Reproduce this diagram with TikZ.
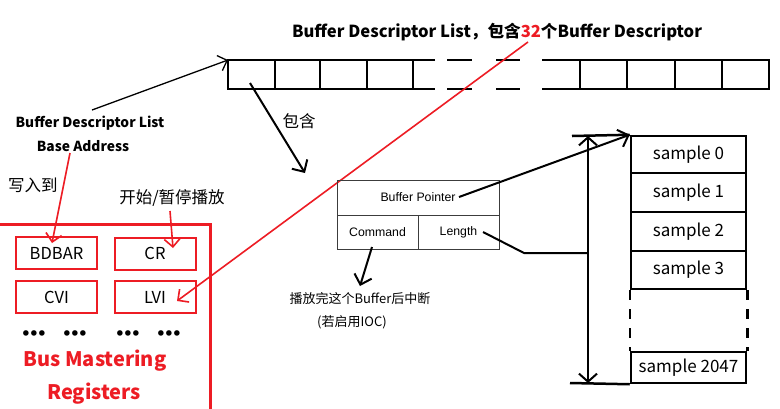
\documentclass[tikz,border=0pt]{standalone}
\usepackage{fontspec}
\setmainfont{Noto Sans CJK SC}
\newfontfamily\arialf{Liberation Sans}
\newfontfamily\dejavu{DejaVu Sans}
\usetikzlibrary{arrows.meta}
\definecolor{pred}{RGB}{237,28,36}
\definecolor{dgray}{RGB}{60,60,60}
\newcommand{\fs}[1]{\fontsize{#1}{#1}\selectfont}
\tikzset{
  thickln/.style={line width=2.5pt, black},
  barb/.style={-{Straight Barb[length=9pt,width=18pt,line width=2pt]}},
  blkarrow/.style={black, line width=2pt, barb},
  thinarrow/.style={black, line width=1.3pt, -{Straight Barb[length=8pt,width=16pt,line width=1.3pt]}},
  redarrow/.style={pred, line width=1.6pt, -{Straight Barb[length=8pt,width=16pt,line width=1.6pt]}},
  regbox/.style={draw=pred, line width=2pt, minimum width=81pt, minimum height=32pt, inner sep=0pt, font=\fs{16.5}},
  descbox/.style={draw=dgray, line width=0.9pt, inner sep=0pt, font=\arialf\fs{12.3}},
  sampbox/.style={draw=black, line width=2.5pt, minimum width=115pt, inner sep=0pt, font=\fs{17}},
  lbl/.style={inner sep=0pt, font=\fs{16.5}},
  blbl/.style={inner sep=0pt, font=\bfseries\fs{13.8}},
  dots/.style={inner sep=0pt, font=\dejavu\fs{19}},
}
\begin{document}
\begin{tikzpicture}[x=1pt,y=-1pt]
\useasboundingbox (0,0) rectangle (780,408);
\fill[white] (0,0) rectangle (780,408);

% title
\node[inner sep=0pt, font=\bfseries\fs{16.6}] (title) at (497,32) {Buffer Descriptor List，包含\textcolor{pred}{32}个Buffer Descriptor};
\coordinate (t32) at (528,42);

% descriptor strip
\draw[thickln] (435,60) -- (228,60) -- (228,89) -- (435,89);
\foreach \x in {275,320,367,413} \draw[thickln] (\x,60) -- (\x,89);
\foreach \a/\b in {447/472,496/520} {
  \draw[thickln] (\a,60) -- (\b,60);
  \draw[thickln] (\a,89) -- (\b,89);
}
\draw[thickln] (542,60) -- (769,60) -- (769,89) -- (542,89);
\foreach \x in {580,627,675,722} \draw[thickln] (\x,60) -- (\x,89);
\coordinate (strip) at (228,60);
\coordinate (cell1) at (250,83);

% left labels
\node[blbl] (bdl) at (90,123) {Buffer Descriptor List};
\node[blbl] (bda) at (83,146) {Base Address};
\coordinate (bdlstart) at (92,110);
\draw[thinarrow] (bdlstart) -- (strip);

\node[lbl] (xrd) at (33,185) {写入到};
\node[lbl] (ksz) at (172,198) {开始/暂停播放};
\node[lbl] (bh) at (299,121) {包含};

% register block
\draw[pred, line width=3pt] (-5,224) -- (210,224) -- (210,415);
\node[regbox] (bdbar) at (56.5,253) {\raisebox{-2pt}{BDBAR}};
\node[regbox] (cr) at (155,253.5) {\raisebox{-2pt}{CR}};
\node[regbox] (cvi) at (56.5,297) {\raisebox{-3pt}{CVI}};
\node[regbox] (lvi) at (155,297) {\raisebox{-3pt}{LVI}};
\foreach \x/\n in {34/d1,75/d2,128/d3,169/d4}
  \node[dots] (\n) at (\x,336) {•\kern-3.2pt•\kern-3.2pt•};
\node[inner sep=0pt, font=\bfseries\fs{20}, text=pred] (bm) at (95,361) {Bus Mastering};
\node[inner sep=0pt, font=\bfseries\fs{20}, text=pred] (rg) at (94,394) {Registers};

% red arrows
\coordinate (bdastart) at (70,153);
\coordinate (bdbartip) at (52,243);
\draw[redarrow] (bdastart) -- (bdbartip);
\coordinate (kszstart) at (170,211);
\coordinate (crtip) at (173,248);
\draw[redarrow] (kszstart) -- (crtip);
\coordinate (lvitip) at (177,301);
\draw[redarrow] (t32) -- (lvitip);

% descriptor
\node[descbox, minimum width=162pt, minimum height=35pt] (bp) at (418,197.5) {Buffer Pointer};
\node[descbox, minimum width=81pt, minimum height=34pt] (cmd) at (377.5,232) {Command};
\node[descbox, minimum width=81pt, minimum height=34pt] (len) at (458.5,232) {Length};

\draw[blkarrow] (cell1) -- (305,173);

% done text
\node[inner sep=0pt, font=\fs{13}] (done) at (360,299) {播放完这个Buffer后中断};
\node[inner sep=0pt, font=\fs{13}] (ioc) at (352,322) {(若启用IOC)};
\coordinate (cmdstart) at (372,247);
\coordinate (cmdtip) at (360,286);
\draw[blkarrow] (cmdstart) -- (cmdtip);

% samples
\node[sampbox, minimum height=37pt] (s0) at (688.5,154.5) {sample 0};
\node[sampbox, minimum height=39pt] (s1) at (688.5,192.5) {sample 1};
\node[sampbox, minimum height=39pt] (s2) at (688.5,231.5) {sample 2};
\node[sampbox, minimum height=38pt] (s3) at (688.5,270) {sample 3};
\node[sampbox, minimum height=31pt] (s4) at (688.5,367.5) {sample 2047};
\draw[thickln, dash pattern=on 10pt off 9pt] (s3.south west) -- (s4.north west);
\draw[thickln, dash pattern=on 10pt off 9pt] (s3.south east) -- (s4.north east);

\coordinate (bpstart) at (459,197);
\draw[blkarrow] (bpstart) -- (s0.north west);

% length bracket
\coordinate (lenstart) at (483,232);
\coordinate (lenbend) at (524,253);
\coordinate (vtop) at (588,136);
\coordinate (vbot) at (588,383);
\coordinate (vmid) at (588,253);
\draw[black, line width=2pt] (lenstart) -- (lenbend) -- (vmid);
\draw[black, line width=2pt, {Straight Barb[length=8pt,width=18pt,line width=2pt]}-{Straight Barb[length=8pt,width=18pt,line width=2pt]}] (vtop) -- (vbot);
\draw[thickln] (572,136) -- (s0.north west);
\draw[thickln] (570,383) -- (s4.south west);
\end{tikzpicture}
\end{document}
